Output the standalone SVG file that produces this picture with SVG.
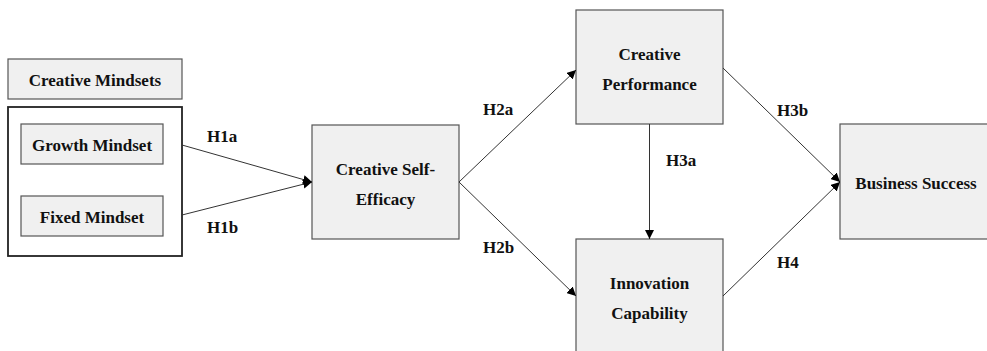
<svg xmlns="http://www.w3.org/2000/svg" width="987" height="351" viewBox="0 0 987 351">
  <style>
    .box { fill: #f0f0f0; stroke: #555555; stroke-width: 1.2; }
    .frame { fill: #ffffff; stroke: #222222; stroke-width: 1.8; }
    .lbl { font-family: "Liberation Serif", "Times New Roman", "DejaVu Serif", serif; font-weight: bold; font-size: 17px; fill: #111111; text-anchor: middle; }
    .hyp { font-family: "Liberation Serif", "Times New Roman", "DejaVu Serif", serif; font-weight: bold; font-size: 17px; fill: #111111; }
    .edge { stroke: #333333; stroke-width: 1; fill: none; marker-end: url(#arrow); }
  </style>
  <defs>
    <marker id="arrow" viewBox="0 0 10 10" refX="10" refY="5" markerWidth="9" markerHeight="9" markerUnits="userSpaceOnUse" orient="auto">
      <path d="M0,0 L10,5 L0,10 Z" fill="#000000"/>
    </marker>
  </defs>
  <rect width="987" height="351" fill="#ffffff"/>

  <g id="creative-mindsets">
    <rect class="box" x="8" y="59" width="174" height="40"/>
    <text class="lbl" x="95" y="86">Creative Mindsets</text>
  </g>
  <g id="mindset-frame">
    <rect class="frame" x="8" y="107" width="174" height="149"/>
  </g>
  <g id="growth-mindset">
    <rect class="box" x="21" y="124" width="142" height="40"/>
    <text class="lbl" x="92" y="151">Growth Mindset</text>
  </g>
  <g id="fixed-mindset">
    <rect class="box" x="21" y="196" width="142" height="40"/>
    <text class="lbl" x="92" y="223">Fixed Mindset</text>
  </g>
  <g id="self-efficacy">
    <rect class="box" x="312" y="125" width="147" height="114"/>
    <text class="lbl" x="385.5" y="175">Creative Self-</text>
    <text class="lbl" x="385.5" y="205">Efficacy</text>
  </g>
  <g id="creative-performance">
    <rect class="box" x="576" y="10" width="147" height="114"/>
    <text class="lbl" x="649.5" y="60">Creative</text>
    <text class="lbl" x="649.5" y="90">Performance</text>
  </g>
  <g id="innovation-capability">
    <rect class="box" x="576" y="239" width="147" height="116"/>
    <text class="lbl" x="649.5" y="289">Innovation</text>
    <text class="lbl" x="649.5" y="319">Capability</text>
  </g>
  <g id="business-success">
    <rect class="box" x="840" y="124" width="150" height="115"/>
    <text class="lbl" x="916" y="189">Business Success</text>
  </g>

  <g id="connectors">
    <line class="edge" x1="182" y1="145" x2="312" y2="182"/>
    <line class="edge" x1="182" y1="215" x2="312" y2="182"/>
    <line class="edge" x1="459" y1="182" x2="576" y2="70"/>
    <line class="edge" x1="459" y1="182" x2="576" y2="296"/>
    <line class="edge" x1="649.5" y1="124" x2="649.5" y2="239"/>
    <line class="edge" x1="723" y1="68" x2="840" y2="182"/>
    <line class="edge" x1="723" y1="296" x2="840" y2="182"/>
    <text class="hyp" x="207" y="142">H1a</text>
    <text class="hyp" x="207" y="233">H1b</text>
    <text class="hyp" x="483" y="115">H2a</text>
    <text class="hyp" x="483" y="253">H2b</text>
    <text class="hyp" x="666" y="166">H3a</text>
    <text class="hyp" x="777" y="116">H3b</text>
    <text class="hyp" x="777" y="268">H4</text>
  </g>
</svg>
